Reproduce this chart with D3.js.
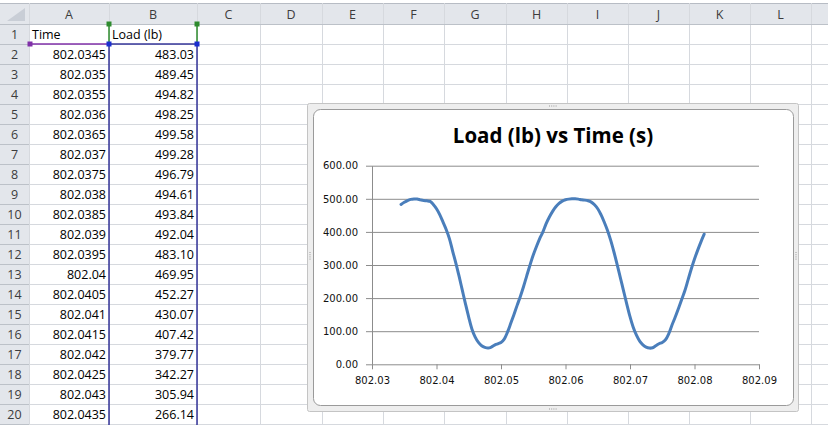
<!DOCTYPE html>
<html><head><meta charset="utf-8">
<script src="https://cdn.jsdelivr.net/npm/d3@7"></script>
<style>
html,body{margin:0;padding:0;background:#fff;}
svg{display:block;}
</style></head>
<body>
<svg id="c" width="828" height="425"></svg>
<script>
// ---- data ----
const title = "Load (lb) vs Time (s)";
const headerLabels = ["Time", "Load (lb)"];
const columnLetters = ["A","B","C","D","E","F","G","H","I","J","K","L"];
const times = [802.0345,802.035,802.0355,802.036,802.0365,802.037,802.0375,802.038,802.0385,802.039,
802.0395,802.04,802.0405,802.041,802.0415,802.042,802.0425,802.043,802.0435,802.044,
802.0445,802.045,802.0455,802.046,802.0465,802.047,802.0475,802.048,802.0485,802.049,
802.0495,802.05,802.0505,802.051,802.0515,802.052,802.0525,802.053,802.0535,802.054,
802.0545,802.055,802.0555,802.056,802.0565,802.057,802.0575,802.058,802.0585,802.059,
802.0595,802.06,802.0605,802.061,802.0615,802.062,802.0625,802.063,802.0635,802.064,
802.0645,802.065,802.0655,802.066,802.0665,802.067,802.0675,802.068,802.0685,802.069,
802.0695,802.07,802.0705,802.071,802.0715,802.072,802.0725,802.073,802.0735,802.074,
802.0745,802.075,802.0755,802.076,802.0765,802.077,802.0775,802.078,802.0785,802.079,
802.0795,802.08,802.0805,802.081,802.0815];
const loads = [483.03,489.45,494.82,498.25,499.58,499.28,496.79,494.61,493.84,492.04,
483.10,469.95,452.27,430.07,407.42,379.77,342.27,305.94,266.14,224,
182,142,106,82,66,56,51,49,52,58,
62,66,76,97,123,150,178,205,235,268,
300,330,356,380,400,425,445,462,476,486,
493,497,499,500,500,499,497,496,494,490,
482,470,452,430,405,375,340,302,262,222,
182,144,112,88,70,59,52,49,50,56,
62,66,74,92,118,142,168,195,222,255,
288,318,345,370,393];
const yTicks = [0,100,200,300,400,500,600];
const xTicks = [802.03,802.04,802.05,802.06,802.07,802.08,802.09];
const visibleRows = 20;

// ---- layout ----
const svg = d3.select("#c");
const colEdges = [0,29,109,197,260,322,383,444,506,567,628,689,750,811,872];
const headTop = 3, headBot = 24, rowH = 20;
const cellFont = "'Open Sans', 'Liberation Sans', sans-serif";

// sheet background
svg.append("rect").attr("width",828).attr("height",425).attr("fill","#fff");
// header row
const hdr = svg.append("g");
hdr.append("rect").attr("x",0).attr("y",headTop).attr("width",828).attr("height",headBot-headTop).attr("fill","#e3e6eb");
hdr.append("rect").attr("x",0).attr("y",headBot).attr("width",colEdges[1]).attr("height",425-headBot).attr("fill","#e3e6eb");
hdr.append("line").attr("x1",0).attr("x2",828).attr("y1",headTop+0.5).attr("y2",headTop+0.5).attr("stroke","#b7bcc4");
// corner triangle
hdr.append("path").attr("d",`M${colEdges[1]-4},${headTop+5} L${colEdges[1]-4},${headBot-3} L${colEdges[1]-22},${headBot-3} Z`).attr("fill","#c9ced6");

// grid lines of cells
const grid = svg.append("g").attr("stroke","#d6d9de").attr("stroke-width",1);
for (let r=0;r<=visibleRows;r++){
  const yy = headBot + r*rowH + 0.5;
  grid.append("line").attr("x1",0).attr("x2",828).attr("y1",yy).attr("y2",yy)
    .attr("stroke", "#d6d9de");
}
colEdges.slice(1).forEach(x=>{
  grid.append("line").attr("x1",x+0.5).attr("x2",x+0.5).attr("y1",headTop).attr("y2",425);
});
// header separators darker
colEdges.slice(1).forEach(x=>{
  hdr.append("line").attr("x1",x+0.5).attr("x2",x+0.5).attr("y1",headTop).attr("y2",headBot).attr("stroke","#bcc1c8");
});
svg.append("line").attr("x1",0).attr("x2",828).attr("y1",headBot+0.5).attr("y2",headBot+0.5).attr("stroke","#bcc1c8");
for (let r=1;r<=visibleRows;r++){
  const yy = headBot + r*rowH + 0.5;
  svg.append("line").attr("x1",0).attr("x2",colEdges[1]).attr("y1",yy).attr("y2",yy).attr("stroke","#bcc1c8");
}

// column letters
columnLetters.forEach((c,i)=>{
  svg.append("text").attr("x",(colEdges[i+1]+colEdges[i+2])/2).attr("y",19)
    .attr("text-anchor","middle").attr("font-family",cellFont).attr("font-size",12.5)
    .attr("fill","#3c3c3c").text(c);
});
// row numbers
for (let r=1;r<=visibleRows;r++){
  svg.append("text").attr("x",colEdges[1]/2).attr("y",headBot+(r-1)*rowH+15)
    .attr("text-anchor","middle").attr("font-family",cellFont).attr("font-size",12.5)
    .attr("fill","#3c3c3c").text(r);
}
// header cells
headerLabels.forEach((h,i)=>{
  svg.append("text").attr("x",colEdges[i+1]+3).attr("y",headBot+15)
    .attr("font-family",cellFont).attr("font-size",12.5).attr("fill","#000").text(h);
});
// data cells
for (let r=0;r<visibleRows-1;r++){
  const yy = headBot+(r+1)*rowH+15;
  svg.append("text").attr("x",colEdges[2]-3).attr("y",yy).attr("text-anchor","end")
    .attr("font-family",cellFont).attr("font-size",12.5).attr("fill","#000").text(String(times[r]));
  svg.append("text").attr("x",colEdges[3]-3).attr("y",yy).attr("text-anchor","end")
    .attr("font-family",cellFont).attr("font-size",12.5).attr("fill","#000").text(loads[r].toFixed(2));
}
// range highlight
const hl = svg.append("g");
hl.append("line").attr("x1",colEdges[1]).attr("x2",colEdges[2]).attr("y1",headBot+rowH).attr("y2",headBot+rowH).attr("stroke","#8030a8").attr("stroke-width",1.5);
hl.append("line").attr("x1",colEdges[2]).attr("x2",colEdges[2]).attr("y1",headBot).attr("y2",headBot+rowH).attr("stroke","#2e8b2e").attr("stroke-width",1.5);
hl.append("line").attr("x1",colEdges[3]).attr("x2",colEdges[3]).attr("y1",headBot).attr("y2",headBot+rowH).attr("stroke","#2e8b2e").attr("stroke-width",1.5);
hl.append("rect").attr("x",colEdges[2]).attr("y",headBot+rowH).attr("width",colEdges[3]-colEdges[2]).attr("height",425)
  .attr("fill","none").attr("stroke","#1a1a8c").attr("stroke-width",1.3);
[[colEdges[1]+1,headBot+rowH,"#8030a8"],[colEdges[2],headBot,"#2e8b2e"],[colEdges[3],headBot,"#2e8b2e"],
 [colEdges[2],headBot+rowH,"#1a2ed0"],[colEdges[3],headBot+rowH,"#1a2ed0"]].forEach(([x,y,c])=>{
  hl.append("rect").attr("x",x-2.5).attr("y",y-2.5).attr("width",5).attr("height",5).attr("fill",c);
});

// ---- chart object ----
const ch = svg.append("g");
ch.append("rect").attr("x",307.5).attr("y",103.5).attr("width",491).attr("height",308)
  .attr("fill","#eeeeee").attr("stroke","#c4c4c4").attr("rx",2);
ch.append("rect").attr("x",313.5).attr("y",109.5).attr("width",480).attr("height",296)
  .attr("fill","#fff").attr("stroke","#9a9a9a").attr("stroke-width",1).attr("rx",7);
// handle dots
function dots(cx,cy,horiz){
  for(let k=0;k<4;k++){
    ch.append("rect").attr("x",horiz?cx-4+k*2.2:cx-0.5).attr("y",horiz?cy-0.5:cy-4+k*2.2)
      .attr("width",1).attr("height",1).attr("fill","#9a9a9a");
  }
}
dots(553,106,true); dots(553,409,true); dots(310,256,false); dots(796,256,false);

const x = d3.scaleLinear().domain([802.03,802.09]).range([372,759]);
const y = d3.scaleLinear().domain([0,600]).range([364.3,165.7]);
const W = x.range()[1]-x.range()[0];

// gridlines
const gg = ch.append("g").attr("transform",`translate(${x.range()[0]},0)`)
  .call(d3.axisLeft(y).tickValues(yTicks.slice(1)).tickSize(-W).tickFormat(""));
gg.select(".domain").remove();
gg.selectAll("line").attr("stroke","#8c8c8c").attr("stroke-width",1);

// y axis
const ya = ch.append("g").attr("transform",`translate(${x.range()[0]},0)`)
  .call(d3.axisLeft(y).tickValues(yTicks).tickSize(6).tickSizeOuter(0).tickPadding(8).tickFormat(d3.format(".2f")));
ya.select(".domain").attr("stroke","#8c8c8c");
ya.selectAll("line").attr("stroke","#8c8c8c");
ya.selectAll("text").attr("font-family","'DejaVu Sans', sans-serif").attr("font-size",10).attr("fill","#111");

// x axis
const xa = ch.append("g").attr("transform",`translate(0,${y(0)})`)
  .call(d3.axisBottom(x).tickValues(xTicks).tickSize(5).tickSizeOuter(0).tickPadding(8).tickFormat(d3.format(".2f")));
xa.select(".domain").attr("stroke","#8c8c8c");
xa.selectAll("line").attr("stroke","#8c8c8c");
xa.selectAll("text").attr("font-family","'DejaVu Sans', sans-serif").attr("font-size",10).attr("fill","#111");

// title
ch.append("text").attr("x",553).attr("y",143).attr("text-anchor","middle")
  .attr("font-family","'Open Sans', sans-serif").attr("font-weight","bold").attr("font-size",20.5)
  .attr("fill","#000").text(title);

// series line
const pts = times.map((t,i)=>[t,loads[i]]);
ch.append("path").datum(pts)
  .attr("d", d3.line().x(d=>x(d[0])).y(d=>y(d[1])).curve(d3.curveCatmullRom.alpha(0.5)))
  .attr("fill","none").attr("stroke","#4a7ebb").attr("stroke-width",3).attr("stroke-linejoin","round").attr("stroke-linecap","round");
</script>
</body></html>
